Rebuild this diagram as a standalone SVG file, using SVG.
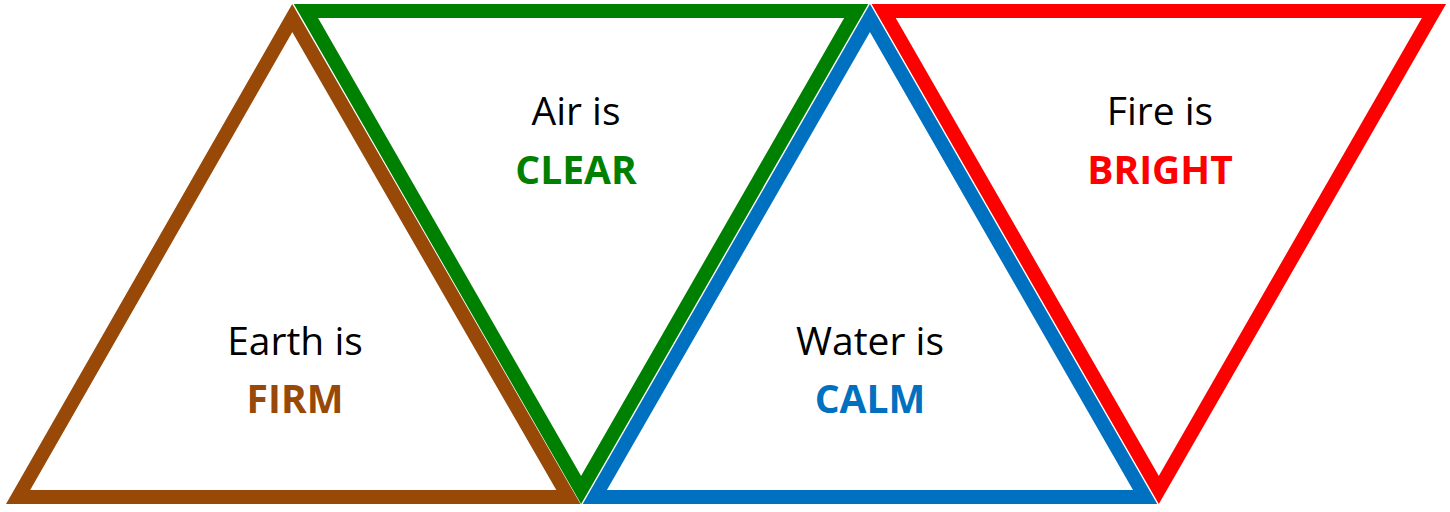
<svg xmlns="http://www.w3.org/2000/svg" width="1450" height="512" viewBox="0 0 1450 512">
<style>
.tri{fill:none;stroke-width:14;stroke-linejoin:miter;stroke-miterlimit:10}
.t{font-family:"Open Sans","Noto Sans","Liberation Sans",sans-serif;font-size:39px;text-anchor:middle;fill:#000}
.b{font-weight:bold}
</style>
<rect width="1450" height="512" fill="#fff"/>
<g id="earth">
<polygon class="tri" stroke="#984807" points="292.25,18.06 18.09,497 568.41,497"/>
<text class="t" x="295" y="355">Earth is</text>
<text class="t b" x="295" y="413" style="fill:#984807">FIRM</text>
</g>
<g id="air">
<polygon class="tri" stroke="#008000" points="305.94,11 856.26,11 581.1,489.94"/>
<text class="t" x="576" y="125">Air is</text>
<text class="t b" x="576" y="184" style="fill:#008000">CLEAR</text>
</g>
<g id="water">
<polygon class="tri" stroke="#0070C0" points="869.95,18.06 594.79,497 1145.11,497"/>
<text class="t" x="870" y="355">Water is</text>
<text class="t b" x="870" y="413" style="fill:#0070C0">CALM</text>
</g>
<g id="fire">
<polygon class="tri" stroke="#FF0000" points="883.64,11 1433.96,11 1158.8,489.94"/>
<text class="t" x="1160" y="125">Fire is</text>
<text class="t b" x="1160" y="184" style="fill:#FF0000">BRIGHT</text>
</g>
<g id="connectors"></g>
</svg>
